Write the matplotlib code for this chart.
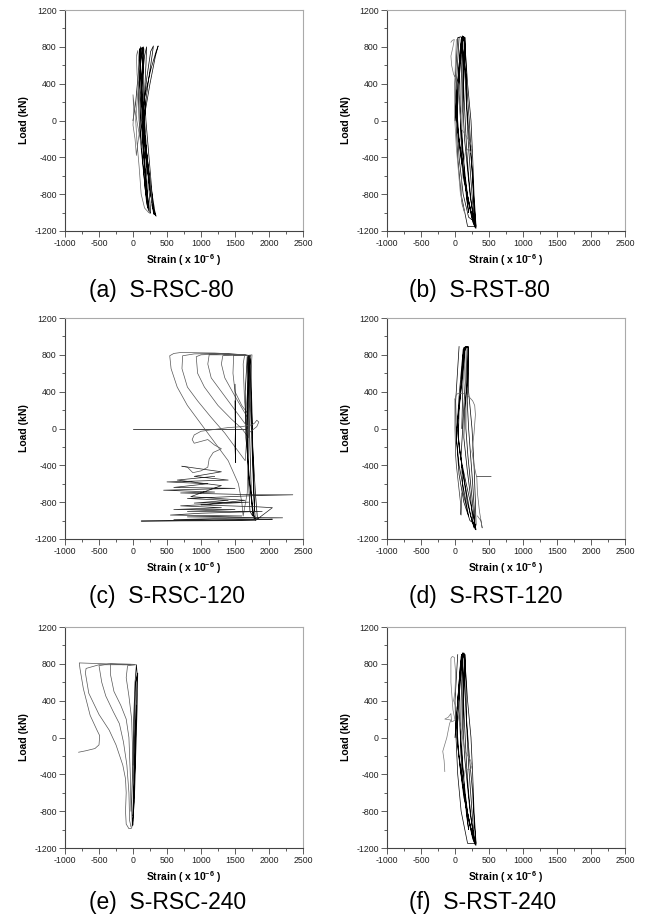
import matplotlib
matplotlib.use("Agg")
import matplotlib.pyplot as plt
from matplotlib.ticker import MultipleLocator

plt.rcParams['font.family'] = ['Liberation Sans', 'DejaVu Sans']
plt.rcParams['mathtext.default'] = 'regular'
plt.rcParams['axes.unicode_minus'] = False

# ---- data: (strain x1e-6, load kN) ----
captions = ['(a)  S-RSC-80', '(b)  S-RST-80', '(c)  S-RSC-120',
            '(d)  S-RST-120', '(e)  S-RSC-240', '(f)  S-RST-240']

a_black = [(0, 0), (40, 200), (70, 450), (100, 700), (120, 790), (110, 600), (130, 300), (160, 0),
           (190, -400), (210, -750), (230, -980), (200, -900), (160, -600), (120, -300), (90, 0),
           (80, 300), (110, 600), (140, 780), (150, 800), (140, 500), (150, 200), (180, -100),
           (210, -450), (240, -800), (260, -1000), (250, -1010), (210, -800), (170, -500),
           (140, -200), (110, 100), (130, 400), (170, 700), (200, 800), (190, 600), (170, 300),
           (190, 0), (230, -350), (270, -700), (300, -980), (310, -1020), (270, -850), (220, -500),
           (170, -150), (150, 100), (200, 450), (260, 750), (300, 810), (280, 700), (230, 450),
           (170, 100), (160, -100), (210, -400), (260, -750), (300, -950), (330, -1030),
           (300, -1000), (250, -750), (190, -400), (150, 0), (170, 250), (260, 550), (340, 750),
           (370, 810), (330, 700), (250, 400), (180, 100), (150, -100), (200, -450), (260, -800),
           (310, -1000), (340, -1040), (320, -980), (260, -700), (200, -350), (150, 0), (120, 300),
           (140, 600), (130, 790), (160, 780), (150, 400), (140, 0), (170, -400), (200, -800),
           (220, -950), (190, -700), (150, -300), (120, 100), (110, 500), (100, 780),
           (120, 500), (130, 200), (150, -200), (180, -600), (210, -900), (180, -750),
           (140, -400), (110, -100), (100, 300), (90, 650), (110, 800)]
a_gray = [(130, -300), (80, -100), (20, 150), (0, 280), (10, 100), (0, -50), (30, -200),
          (50, -380), (70, -250), (100, -100), (130, 0), (90, 300), (60, 500), (50, 700),
          (70, 760), (90, 600), (80, 400), (60, 200), (40, 0), (60, -250), (90, -500),
          (120, -800), (170, -950), (230, -1000), (280, -900), (250, -600)]

b_black = [(0, 0), (30, 300), (60, 600), (90, 880), (110, 900), (120, 600), (130, 300), (150, 0),
           (170, -300), (200, -600), (240, -900), (280, -1100), (300, -1170), (260, -1100),
           (200, -900), (150, -600), (110, -300), (80, 0), (60, 300), (70, 600), (100, 900),
           (130, 910), (140, 600), (160, 300), (180, 0), (200, -300), (230, -600), (260, -900),
           (290, -1150), (250, -1050), (180, -800), (120, -500), (60, -200), (30, 100), (40, 400),
           (80, 700), (120, 910), (150, 900), (160, 600), (170, 200), (210, -200), (260, -600),
           (280, -900), (310, -1170), (240, -1000), (150, -700), (90, -400), (40, -100), (20, 200),
           (50, 500), (80, 800), (110, 920), (140, 880), (130, 500), (120, 100), (140, -200),
           (180, -500), (220, -800), (260, -1000), (300, -1160), (220, -950), (130, -650),
           (70, -300), (30, 0), (50, 350), (90, 700), (100, 900), (120, 700), (110, 300),
           (100, -100), (130, -500), (170, -850), (200, -1000), (170, -800), (110, -450),
           (80, -100), (90, 400), (110, 850), (140, 900), (185, 400), (235, 0), (260, -400),
           (280, -800), (310, -1150), (185, -1150), (90, -800), (40, -400), (15, 0), (0, 400),
           (40, 900), (90, 910), (160, 500), (210, 0), (240, -400), (270, -800), (290, -1100),
           (200, -1050), (120, -800), (60, -400), (30, 0), (20, 400), (60, 900)]
b_gray = [(-60, 850), (-40, 870), (-10, 880), (-30, 800), (-60, 700), (-50, 600), (-20, 500),
          (20, 450), (40, 400), (60, 200), (100, -100), (150, -150), (230, -250), (250, -300),
          (230, -350), (200, -300), (150, -350), (120, -500), (90, -700), (100, -900),
          (140, -1000), (80, -800), (20, -300), (-10, 100), (0, 500), (20, 880)]

c_line0 = [(0, 0), (1650, 0)]
c_loops = [(1650, 800), (1200, 820), (700, 825), (600, 815), (540, 790), (560, 650), (650, 450),
           (800, 250), (1000, 50), (1200, -150), (1400, -350), (1550, -600), (1600, -800),
           (1620, -950), (1680, -700), (1700, -200), (1680, 800), (1300, 815), (900, 810),
           (730, 790), (720, 650), (800, 450), (950, 300), (1150, 120), (1350, -50), (1500, -200),
           (1650, -350), (1700, 200), (1700, 790), (1300, 810), (1000, 800), (930, 780),
           (950, 600), (1050, 450), (1250, 250), (1450, 100), (1600, 0), (1700, -100), (1710, 790),
           (1400, 800), (1120, 800), (1100, 700), (1150, 550), (1300, 400), (1500, 200),
           (1650, 50), (1720, 790), (1500, 800), (1320, 790), (1300, 700), (1350, 550),
           (1500, 350), (1620, 200), (1700, 100), (1730, 790), (1560, 800), (1480, 790),
           (1470, 600), (1500, 400), (1600, 250), (1700, 150), (1750, 800), (1640, 790),
           (1620, 700), (1640, 300), (1680, 0)]
c_band = [(1700, 790), (1720, 400), (1740, 0), (1760, -400), (1780, -800), (1800, -1000),
          (1760, -900), (1700, -500), (1680, 0), (1690, 500), (1710, 790), (1740, 300),
          (1760, -200), (1800, -700), (1830, -980), (1780, -980), (1720, -600), (1660, -100),
          (1650, 400), (1680, 780), (1700, 400), (1720, -200), (1740, -700), (1760, -950),
          (1720, -900), (1690, -400), (1670, 0), (1700, 600), (1730, 760), (1750, 200),
          (1770, -500), (1790, -900)]
c_mid = [(1500, 480), (1510, 100), (1500, -200), (1510, -370), (1500, 300)]
c_wave = [(1700, -50), (1820, 20), (1850, 70), (1820, 90), (1790, 60), (1750, 40), (1600, 20),
          (1400, 10), (1200, -10), (1000, -30), (900, -70), (870, -120), (900, -160),
          (1000, -140), (1100, -120), (1200, -180), (1300, -220), (1180, -260), (1120, -330),
          (1100, -420), (1000, -460), (880, -480), (800, -420), (720, -410)]
c_zig = [(720, -410), (1300, -470), (900, -520), (1400, -560), (500, -580), (1100, -600),
         (600, -640), (1500, -650), (450, -670), (1200, -690), (700, -700), (1800, -720),
         (2350, -720), (1750, -730), (800, -760), (1400, -780), (900, -810), (1700, -800),
         (700, -840), (1300, -860), (600, -880), (1500, -880), (800, -900), (1900, -900),
         (1000, -920), (550, -940), (1600, -950), (800, -960), (2200, -970), (1400, -975),
         (600, -990), (1900, -990), (2050, -985), (1500, -995), (120, -1005), (1800, -1000),
         (2050, -860), (1820, -850), (1000, -830), (1650, -780), (850, -740), (1300, -620),
         (650, -560), (1200, -520)]

d_black = [(100, 0), (110, 300), (120, 600), (140, 880), (160, 890), (170, 600), (160, 300),
           (160, 0), (190, -300), (230, -600), (270, -900), (300, -1100), (250, -1000),
           (180, -800), (120, -500), (60, -200), (40, 100), (80, 400), (110, 700), (130, 880),
           (180, 890), (190, 600), (180, 300), (200, 0), (230, -300), (260, -600), (290, -950),
           (280, -1080), (230, -950), (170, -700), (100, -400), (50, -100), (60, 200), (100, 500),
           (120, 800), (170, 890), (200, 880), (180, 500), (140, 200), (130, -100), (180, -450),
           (230, -750), (260, -1000), (310, -1100), (240, -850), (150, -550), (80, -300),
           (30, 0), (70, 300), (110, 600), (140, 880), (150, 500), (120, 100), (90, -300),
           (120, -700), (200, -950), (150, -750), (60, -400), (20, -100), (60, 350), (120, 860),
           (200, 890), (200, 400), (250, 0), (280, -400), (300, -800), (310, -1050),
           (220, -1000), (130, -800), (60, -500), (20, -100), (10, 300), (60, 890)]
d_gray = [(0, 320), (20, 370), (60, 385), (120, 380), (200, 350), (260, 300), (290, 250),
          (300, 150), (280, -50), (250, -250), (280, -400), (310, -500), (320, -520), (530, -520),
          (320, -520), (330, -700), (360, -900), (400, -1080), (380, -1000), (330, -950)]
d_left = [(0, 320), (0, 0), (10, -300), (20, -400), (50, -600), (80, -800), (80, -930),
          (90, -940), (100, -700)]

e_loops = [(30, 790), (0, 795), (-400, 800), (-790, 810), (-780, 750), (-730, 530), (-630, 240),
           (-530, 80), (-490, 20), (-500, -80), (-560, -120), (-700, -145), (-800, -160)]
e_loop2 = [(-40, 790), (-500, 790), (-690, 750), (-700, 700), (-650, 480), (-500, 250),
           (-350, 80), (-250, -80), (-150, -300), (-110, -450), (-100, -600), (-110, -800),
           (-100, -940), (-60, -990), (-20, -985), (0, -900)]
e_loop3 = [(-30, 795), (-350, 800), (-500, 780), (-460, 600), (-400, 450), (-290, 280),
           (-200, 150), (-140, -50), (-90, -300), (-60, -600), (-50, -900), (-30, -970)]
e_loop4 = [(20, 790), (-150, 790), (-330, 800), (-330, 680), (-280, 500), (-180, 350),
           (-100, 200), (-60, 0), (-40, -400), (-30, -800)]
e_loop5 = [(40, 790), (-80, 780), (-100, 650), (-60, 450), (-20, 200), (0, -300)]
e_band = [(0, -950), (20, -500), (30, 0), (50, 400), (60, 700), (50, 790), (30, 600), (10, 200),
          (0, -200), (-20, -700), (-10, -960), (20, -700), (40, -200), (60, 300), (70, 700),
          (40, 600), (20, 100), (10, -400), (0, -850), (30, -300), (50, 350)]

f_black = [(0, 0), (30, 300), (60, 600), (90, 880), (110, 910), (120, 600), (130, 300),
           (150, 0), (170, -300), (200, -600), (240, -900), (280, -1100), (300, -1170),
           (260, -1100), (200, -900), (150, -600), (110, -300), (80, 0), (60, 300), (70, 600),
           (100, 900), (130, 920), (140, 600), (160, 300), (180, 0), (200, -300), (230, -600),
           (260, -900), (290, -1150), (250, -1050), (180, -800), (120, -500), (60, -200),
           (30, 100), (40, 400), (80, 700), (120, 910), (150, 900), (160, 600), (170, 200),
           (210, -200), (260, -600), (280, -900), (310, -1170), (240, -1000), (150, -700),
           (90, -400), (40, -100), (20, 200), (50, 500), (80, 800), (110, 920), (140, 880),
           (130, 500), (120, 100), (140, -200), (180, -500), (220, -800), (260, -1000),
           (300, -1160), (220, -950), (130, -650), (70, -300), (30, 0), (50, 350), (90, 700),
           (100, 900), (120, 700), (110, 300), (100, -100), (130, -500), (170, -850),
           (200, -1000), (170, -800), (110, -450), (80, -100), (90, 400), (110, 850),
           (140, 910), (185, 400), (235, 0), (260, -400), (280, -800), (310, -1150),
           (185, -1150), (90, -800), (40, -400), (15, 0), (0, 400), (40, 900)]
f_gray = [(-150, -370), (-160, -250), (-180, -150), (-120, 0), (-80, 150), (-60, 190),
          (-150, 200), (-100, 220), (-60, 260), (-50, 170), (-20, 180), (0, 190), (-30, 300),
          (-40, 400), (-60, 600), (-60, 860), (-40, 880), (-10, 870), (10, 700), (0, 500),
          (-20, 400), (30, 300), (150, -150), (230, -250), (250, -300), (230, -350),
          (150, -350), (120, -500)]

panels = [
    [(a_black, 'k'), (a_gray, '#666666')],
    [(b_black, 'k'), (b_gray, '#777777')],
    [(c_line0, 'k'), (c_loops, '#555555'), (c_band, 'k'), (c_mid, 'k'), (c_wave, '#555555'),
     (c_zig, '#222222')],
    [(d_black, 'k'), (d_gray, '#666666'), (d_left, '#333333')],
    [(e_loops, '#555555'), (e_loop2, '#555555'), (e_loop3, '#555555'), (e_loop4, '#555555'),
     (e_loop5, '#555555'), (e_band, 'k')],
    [(f_black, 'k'), (f_gray, '#777777')],
]

fig = plt.figure(figsize=(6.48, 9.24), dpi=100)

lefts = [65 / 648, 387 / 648]
bottoms = [1 - 231 / 924, 1 - 539 / 924, 1 - 848 / 924]
cap_x = [89 / 648, 409 / 648]
cap_y = [1 - 291 / 924, 1 - 596 / 924, 1 - 903 / 924]
w = 238 / 648
h = 221 / 924

for i, series in enumerate(panels):
    r, c = divmod(i, 2)
    ax = fig.add_axes([lefts[c], bottoms[r], w, h])
    for pts, col in series:
        xs, ys = zip(*pts)
        ax.plot(xs, ys, color=col, lw=0.5)
    ax.set_xlim(-1000, 2500)
    ax.set_ylim(-1200, 1200)
    ax.xaxis.set_major_locator(MultipleLocator(500))
    ax.xaxis.set_minor_locator(MultipleLocator(250))
    ax.yaxis.set_major_locator(MultipleLocator(400))
    ax.yaxis.set_minor_locator(MultipleLocator(200))
    ax.tick_params(which='major', length=4, width=0.6, labelsize=6.3, pad=2, color='#444444',
                   labelcolor='#222222')
    ax.tick_params(which='minor', length=2.5, width=0.6, color='#444444')
    for s in ['left', 'bottom']:
        ax.spines[s].set_color('#444444')
        ax.spines[s].set_linewidth(0.8)
    for s in ['top', 'right']:
        ax.spines[s].set_color('#aaaaaa')
        ax.spines[s].set_linewidth(0.8)
    ax.set_xlabel('Strain ( x 10$^{-6}$ )', fontsize=7.5, fontweight='bold', labelpad=3)
    ax.set_ylabel('Load (kN)', fontsize=7.5, fontweight='bold', labelpad=4)
    fig.text(cap_x[c], cap_y[r], captions[i], fontsize=16.5, ha='left', va='center')

fig.savefig('out.png', dpi=100)
